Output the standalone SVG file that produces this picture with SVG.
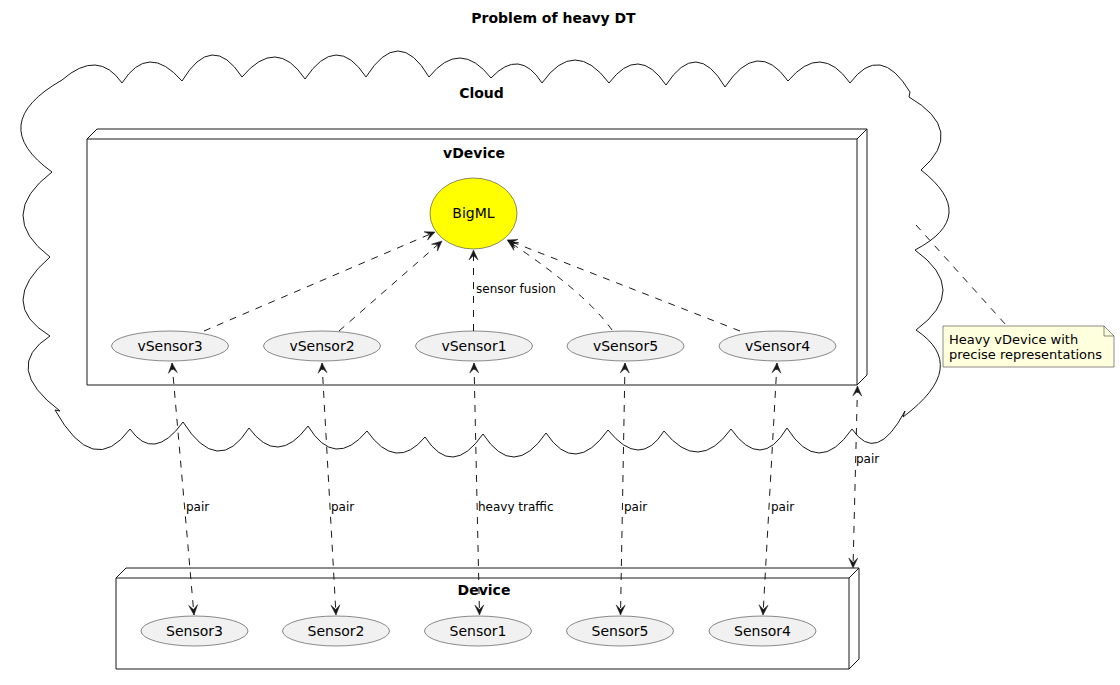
<svg xmlns="http://www.w3.org/2000/svg" width="1120" height="685" viewBox="0 0 1120 685">
<style>
text{font-family:"DejaVu Sans","Liberation Sans",sans-serif;fill:#000}
.b{font-weight:bold;font-size:14px}
.n{font-size:14px}
.l{font-size:12px}
.nt{font-size:13px}
.box{fill:#fff;stroke:#181818;stroke-width:1}
.el{fill:#F1F1F1;stroke:#181818;stroke-width:0.5}
.c{fill:none;stroke:#181818;stroke-width:1;stroke-dasharray:7,7}
</style>
<defs>
<marker id="ah" viewBox="-11 -6 12 12" refX="0" refY="0" markerWidth="12" markerHeight="12" markerUnits="userSpaceOnUse" orient="auto-start-reverse">
<path d="M0,0 L-10,-4.5 L-5.5,0 L-10,4.5 Z" fill="#181818" stroke="#181818" stroke-width="0.5"/>
</marker>
</defs>
<rect width="1120" height="685" fill="#fff"/>
<text class="b" x="553.5" y="23" text-anchor="middle">Problem of heavy DT</text>

<g id="cloud">
<path fill="#fff" stroke="#181818" stroke-width="1" d="M62,80 Q98,48.5 122,83 Q148,42 182,81 Q212,31 242,77 Q276.5,36 305,79 Q336.5,32 366,77 Q398.5,25 429,77 Q460,38.5 491,78 Q519.5,47.5 542,83 Q574.5,37 609,83 Q638.5,44 666,85 Q696.5,38 725,87 Q757.5,38 788,81 Q821,42 850,83 Q880,42.5 910,92 L909,97 Q966.5,130.5 921,170 Q980,216 915,250 Q970.5,290 916,330 Q970.5,366.5 903,417 L905,411 Q876.5,465 852,429 Q818.5,477.5 787,428 Q761,471.5 731,429 Q698.5,474 664,431 Q640,469.5 608,430 Q575,476.5 546,433 Q513.5,480.5 483,434 Q452,478.5 425,437 Q396,472 367,431 Q334.5,469.5 308,426 Q277.5,467 249,428 Q218,477 183,422 Q153.5,462.5 130,429 Q93.5,478.5 55,410 L60,411 Q1.5,367 50,336 Q-4,303.5 50,257 Q-5,215.5 52,172 Q-15,124 62,80 Z"/>
<text class="b" x="481.5" y="98" text-anchor="middle">Cloud</text>
</g>

<g id="vDevice">
<path class="box" d="M87,139 L97,129 L867,129 L867,375 L857,385 L87,385 Z"/>
<path fill="none" stroke="#181818" stroke-width="1" d="M87,139 L857,139 L867,129 M857,139 L857,385"/>
<text class="b" x="474" y="158" text-anchor="middle">vDevice</text>
</g>

<g id="BigML">
<ellipse cx="473.5" cy="213.5" rx="43.5" ry="35.5" fill="#FFFF00" stroke="#181818" stroke-width="0.5"/>
<text class="n" x="473.5" y="218" text-anchor="middle">BigML</text>
</g>
<g id="vSensor3"><ellipse class="el" cx="170" cy="346" rx="58.5" ry="15"/><text class="n" x="170" y="351" text-anchor="middle">vSensor3</text></g>
<g id="vSensor2"><ellipse class="el" cx="322" cy="346" rx="58.5" ry="15"/><text class="n" x="322" y="351" text-anchor="middle">vSensor2</text></g>
<g id="vSensor1"><ellipse class="el" cx="474" cy="346" rx="58.5" ry="15"/><text class="n" x="474" y="351" text-anchor="middle">vSensor1</text></g>
<g id="vSensor5"><ellipse class="el" cx="625.5" cy="346" rx="58.5" ry="15"/><text class="n" x="625.5" y="351" text-anchor="middle">vSensor5</text></g>
<g id="vSensor4"><ellipse class="el" cx="777.5" cy="346" rx="58.5" ry="15"/><text class="n" x="777.5" y="351" text-anchor="middle">vSensor4</text></g>

<g id="Device">
<path class="box" d="M116,578 L126,568 L859,568 L859,659 L849,669 L116,669 Z"/>
<path fill="none" stroke="#181818" stroke-width="1" d="M116,578 L849,578 L859,568 M849,578 L849,669"/>
<text class="b" x="484" y="595" text-anchor="middle">Device</text>
</g>
<g id="Sensor3"><ellipse class="el" cx="194.5" cy="631" rx="53.5" ry="15"/><text class="n" x="194.5" y="636" text-anchor="middle">Sensor3</text></g>
<g id="Sensor2"><ellipse class="el" cx="336" cy="631" rx="53.5" ry="15"/><text class="n" x="336" y="636" text-anchor="middle">Sensor2</text></g>
<g id="Sensor1"><ellipse class="el" cx="478" cy="631" rx="53.5" ry="15"/><text class="n" x="478" y="636" text-anchor="middle">Sensor1</text></g>
<g id="Sensor5"><ellipse class="el" cx="620" cy="631" rx="53.5" ry="15"/><text class="n" x="620" y="636" text-anchor="middle">Sensor5</text></g>
<g id="Sensor4"><ellipse class="el" cx="762.5" cy="631" rx="53.5" ry="15"/><text class="n" x="762.5" y="636" text-anchor="middle">Sensor4</text></g>

<g id="note">
<path d="M943,326 L1104,326 L1114,336 L1114,367 L943,367 Z" fill="#FEFFDD" stroke="#181818" stroke-width="0.5"/>
<path d="M1104,326 L1104,336 L1114,336" fill="none" stroke="#181818" stroke-width="0.5"/>
<text class="nt" x="949" y="344">Heavy vDevice with</text>
<text class="nt" x="949" y="359">precise representations</text>
</g>

<g id="connectors">
<path class="c" d="M204,331 L435,232" marker-end="url(#ah)"/>
<path class="c" d="M339,331 L442,241" marker-end="url(#ah)"/>
<path class="c" d="M473.5,331 L473.5,250" marker-end="url(#ah)"/>
<path class="c" d="M612,330 Q585,292 508,241" marker-end="url(#ah)"/>
<path class="c" d="M740,331 L507,240" marker-end="url(#ah)"/>
<text class="l" x="476" y="293">sensor fusion</text>

<path class="c" d="M172,363 L194,615" marker-start="url(#ah)" marker-end="url(#ah)"/>
<path class="c" d="M322,363 L336,615" marker-start="url(#ah)" marker-end="url(#ah)"/>
<path class="c" d="M474,363 L479.5,615" marker-start="url(#ah)" marker-end="url(#ah)"/>
<path class="c" d="M625,363 L620.5,615" marker-start="url(#ah)" marker-end="url(#ah)"/>
<path class="c" d="M777,363 L763,615" marker-start="url(#ah)" marker-end="url(#ah)"/>
<path class="c" d="M857.5,386 L853,568" marker-start="url(#ah)" marker-end="url(#ah)"/>
<text class="l" x="186" y="511">pair</text>
<text class="l" x="331" y="511">pair</text>
<text class="l" x="478" y="511">heavy traffic</text>
<text class="l" x="624" y="511">pair</text>
<text class="l" x="771" y="511">pair</text>
<text class="l" x="856" y="463">pair</text>

<path class="c" d="M916,225 L1006,325"/>
</g>
</svg>
